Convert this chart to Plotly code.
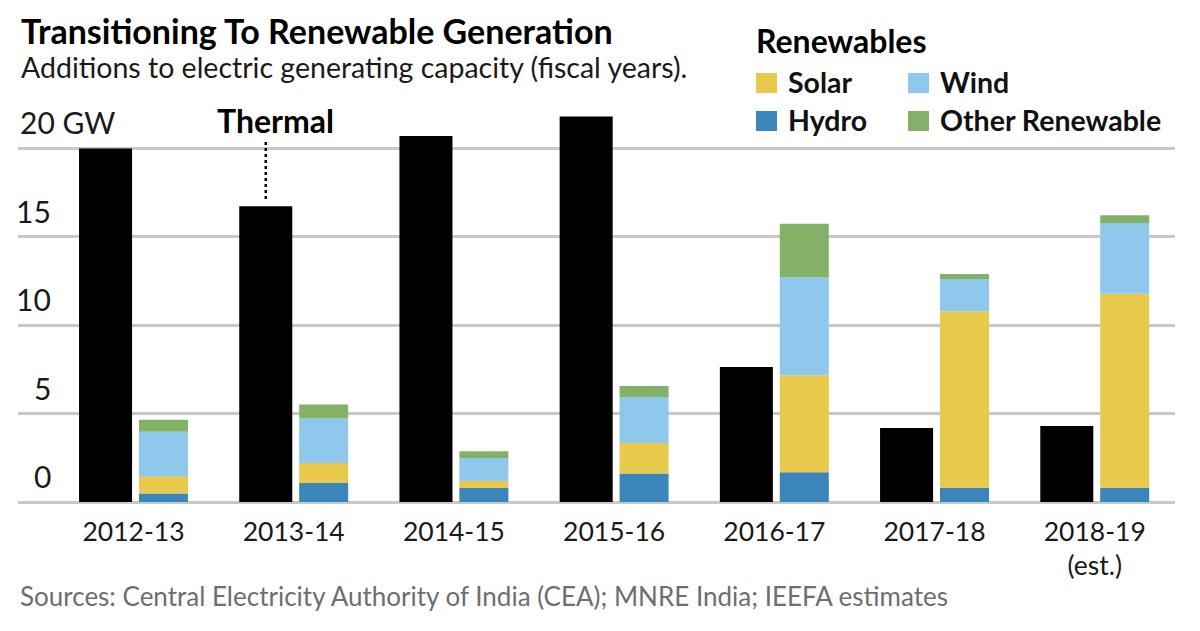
import plotly.graph_objects as go
import numpy as np

# ---------------- data ----------------
years = ["2012-13", "2013-14", "2014-15", "2015-16", "2016-17", "2017-18", "2018-19<br>(est.)"]
thermal = [20.0, 16.73, 20.71, 21.81, 7.64, 4.19, 4.30]
hydro = [0.48, 1.08, 0.79, 1.61, 1.68, 0.81, 0.81]
solar = [0.97, 1.13, 0.40, 1.73, 5.49, 9.98, 10.98]
wind = [2.53, 2.51, 1.30, 2.60, 5.53, 1.83, 4.00]
other = [0.68, 0.79, 0.38, 0.62, 3.05, 0.28, 0.43]

y_ticks = [0, 5, 10, 15, 20]
y_tick_labels = ["0", "5", "10", "15", "20 GW"]

legend_names = ["Solar", "Wind", "Hydro", "Other Renewable"]

# ---------------- style ----------------
FONT = "Lato"
C_THERMAL = "#000000"
C_SOLAR = "#E8C94B"
C_WIND = "#8EC8EC"
C_HYDRO = "#3A86BB"
C_OTHER = "#84B168"
GRID = "#C8C8C8"

W, H = 1200, 631
PAGE = 8  # default body margin of the html page
# plot area in screenshot pixel coordinates
L, R, T, B = 18, 1175, 104, 502
ML, MT = L - PAGE, T - PAGE
MR, MB = W - (R - PAGE), H - (B - PAGE)


def px(xp):
    return (xp - L) / (R - L)


def py(yp):
    return (B - yp) / (B - T)


xidx = list(range(len(years)))
th_off, th_w = -0.340, 0.331
rn_off, rn_w = 0.034, 0.306

fig = go.Figure()
fig.add_trace(go.Bar(x=xidx, y=thermal, offset=th_off, width=th_w,
                     marker=dict(color=C_THERMAL, line=dict(width=0)),
                     name="Thermal", showlegend=False))

stack = [("Hydro", hydro, C_HYDRO), ("Solar", solar, C_SOLAR),
         ("Wind", wind, C_WIND), ("Other Renewable", other, C_OTHER)]
base = np.zeros(len(years))
for name, vals, col in stack:
    fig.add_trace(go.Bar(x=xidx, y=vals, base=base.copy(), offset=rn_off, width=rn_w,
                         marker=dict(color=col, line=dict(width=0)),
                         name=name, showlegend=False))
    base = base + np.array(vals)

fig.update_layout(
    width=W, height=H,
    margin=dict(l=ML, r=MR, t=MT, b=MB),
    paper_bgcolor="white", plot_bgcolor="white",
    barmode="overlay",
    font=dict(family=FONT, color="#1a1a1a"),
    xaxis=dict(range=[-0.721, 6.501], tickvals=xidx, ticktext=years,
               showgrid=False, zeroline=False, showline=False, ticks="",
               tickfont=dict(size=26.5, color="#1a1a1a", family=FONT),
               ticklabelstandoff=11),
    yaxis=dict(range=[0, 22.52], tickvals=y_ticks, showticklabels=False,
               showgrid=True, gridcolor=GRID, gridwidth=2.5,
               zeroline=True, zerolinecolor=GRID, zerolinewidth=2.5,
               showline=False, ticks=""),
)

ann = []
# y tick labels above gridlines
for v, lab in zip(y_ticks, y_tick_labels):
    if lab.endswith("GW"):
        ann.append(dict(x=px(18), xref="paper", xanchor="left", y=v, yref="y",
                        yanchor="middle", yshift=27, text=lab, showarrow=False,
                        font=dict(size=30, color="#1a1a1a")))
    else:
        ann.append(dict(x=px(53), xref="paper", xanchor="right", y=v, yref="y",
                        yanchor="middle", yshift=26, text=lab, showarrow=False,
                        font=dict(size=30, color="#1a1a1a")))

# Thermal label + dotted leader
bar_c = 1 + th_off + th_w / 2
ann.append(dict(x=bar_c, xref="x", xanchor="center", xshift=10, y=20, yref="y",
                yanchor="middle", yshift=28, text="<b>Thermal</b>", showarrow=False,
                font=dict(size=32, color="#000000")))
fig.add_shape(type="line", xref="x", yref="y", x0=bar_c, x1=bar_c,
              y0=thermal[1] + 0.42, y1=20.5,
              line=dict(color="#000000", width=2.5, dash="dot"))

# Title and subtitle
ann.append(dict(x=px(19), xref="paper", xanchor="left", y=py(31), yref="paper",
                yanchor="middle", text="<b>Transitioning To Renewable Generation</b>",
                showarrow=False, font=dict(size=34, color="#000000")))
ann.append(dict(x=px(19), xref="paper", xanchor="left", y=py(67), yref="paper",
                yanchor="middle", text="Additions to electric generating capacity (fiscal years).",
                showarrow=False, font=dict(size=28.5, color="#1a1a1a")))

# Legend
ann.append(dict(x=px(754), xref="paper", xanchor="left", y=py(41), yref="paper",
                yanchor="middle", text="<b>Renewables</b>", showarrow=False,
                font=dict(size=32, color="#000000")))
leg_colors = [C_SOLAR, C_WIND, C_HYDRO, C_OTHER]
leg_pos = [(756, 83), (908, 83), (756, 121), (908, 121)]
for name, col, (lx, ly) in zip(legend_names, leg_colors, leg_pos):
    fig.add_shape(type="rect", xref="paper", yref="paper",
                  x0=px(lx), x1=px(lx + 21), y0=py(ly + 10), y1=py(ly - 10),
                  fillcolor=col, line=dict(width=0))
    ann.append(dict(x=px(lx + 30), xref="paper", xanchor="left", y=py(ly - 1), yref="paper",
                    yanchor="middle", text="<b>" + name + "</b>", showarrow=False,
                    font=dict(size=28.5, color="#111111")))

# Sources
ann.append(dict(x=px(18), xref="paper", xanchor="left", y=py(596), yref="paper",
                yanchor="middle",
                text="Sources: Central Electricity Authority of India (CEA); MNRE India; IEEFA estimates",
                showarrow=False, font=dict(size=26, color="#6E6E6E")))

fig.update_layout(annotations=ann)
fig.write_html("out.html")
